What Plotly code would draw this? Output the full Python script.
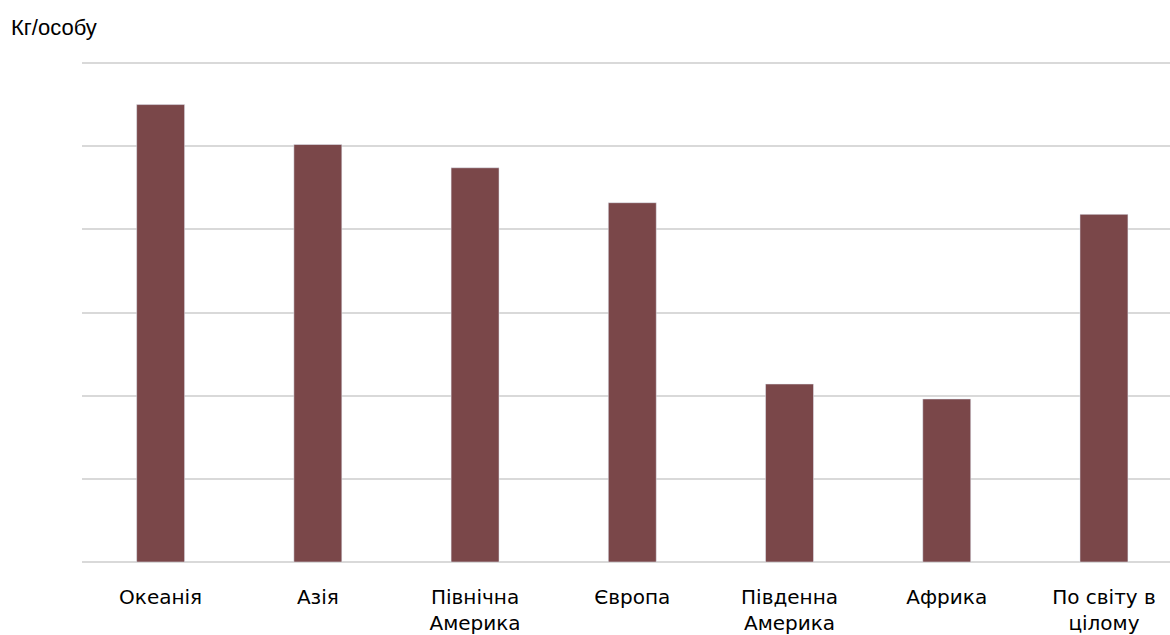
import plotly.graph_objects as go

categories = ["Океанія", "Азія", "Північна<br>Америка", "Європа", "Південна<br>Америка", "Африка", "По світу в<br>цілому"]
values = [27.5, 25.1, 23.7, 21.6, 10.7, 9.8, 20.9]

fig = go.Figure(go.Bar(x=categories, y=values, marker_color="#7a4749", width=0.305))

fig.update_layout(
    width=1170, height=635,
    margin=dict(l=82, r=0, t=58, b=73),
    plot_bgcolor="white", paper_bgcolor="white",
    showlegend=False,
    font=dict(family="DejaVu Sans", size=20, color="#000000"),
    annotations=[dict(text="Кг/особу", x=(9 - 82) / (1170 - 82), y=1 + (58 - 27) / 504,
                      xref="paper", yref="paper",
                      showarrow=False, xanchor="left", yanchor="middle",
                      font=dict(family="Liberation Sans, Arial", size=22, color="#000000"))],
)
fig.update_xaxes(showgrid=False, showline=False, ticks="", tickfont=dict(size=20),
                 range=[-0.5, 6.42], ticklabelstandoff=21)
fig.update_yaxes(range=[0, 30.3], tickvals=[0, 5, 10, 15, 20, 25, 30], showticklabels=False,
                 gridcolor="#d9d9d9", gridwidth=1.5,
                 zeroline=True, zerolinecolor="#d9d9d9", zerolinewidth=1.5)

fig.write_html("out.html")
